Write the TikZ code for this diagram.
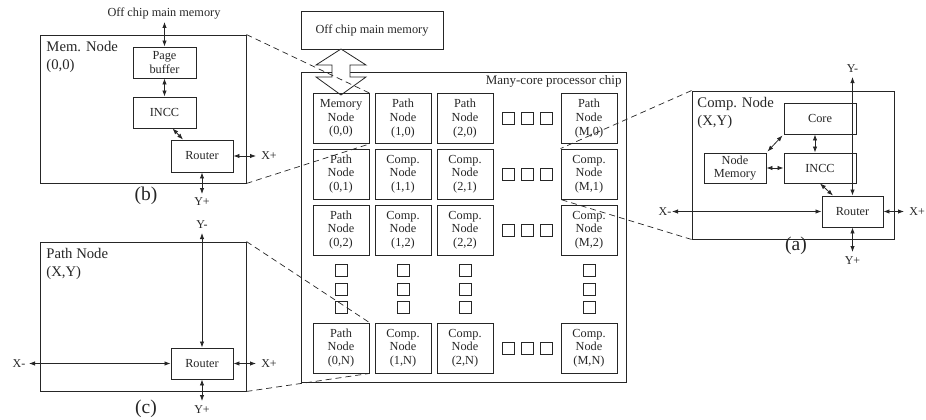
\documentclass[tikz,border=0pt]{standalone}
\usepackage{fontspec}
\setmainfont{Liberation Serif}
\usetikzlibrary{arrows.meta}
\newcommand\txtsm{\fontsize{12.3}{13.6}\selectfont}
\newcommand\txtio{\fontsize{12}{13}\selectfont}
\newcommand\txtchip{\fontsize{13}{14}\selectfont}
\newcommand\txttitle{\fontsize{14.7}{18}\selectfont}
\newcommand\txtcap{\fontsize{19.5}{21}\selectfont}
\begin{document}
\begin{tikzpicture}[x=1pt,y=-1pt,color=black!85,line width=0.9pt,
  box/.style={draw,rectangle,inner sep=0pt,align=center,font=\txtsm},
  cell/.style={box,minimum width=56pt,minimum height=50pt},
  frame/.style={draw,rectangle,inner sep=0pt},
  sq/.style={draw,rectangle,inner sep=0pt,minimum size=12pt,line width=0.8pt},
  boxtitle/.style={anchor=north west,align=left,inner sep=0pt,font=\txttitle},
  io/.style={inner sep=0pt,font=\txtio},
  subcap/.style={inner sep=0pt,font=\txtcap},
  biarrow/.style={{Latex[length=6pt,width=4.4pt]}-{Latex[length=6pt,width=4.4pt]},line width=0.8pt},
  zoomline/.style={dashed,dash pattern=on 6pt off 4pt,line width=0.7pt}]
\useasboundingbox (0,0) rectangle (926,420);

% ---------------- (b) memory node ----------------
\node[frame,minimum width=206pt,minimum height=148pt] (memb) at (143,109) {};
\node[boxtitle] (membt) at (46,41) {Mem. Node\\(0,0)};
\node[io,font=\txtsm] (offb) at (164,13) {Off chip main memory};
\node[box,minimum width=63pt,minimum height=31pt] (pb) at (164.5,62.5) {Page\\buffer};
\node[box,minimum width=63pt,minimum height=31pt] (inccb) at (164.5,112.5) {INCC};
\node[box,minimum width=62pt,minimum height=32pt] (rtb) at (202,156) {Router};
\node[io] (xpb) at (269,156) {X+};
\node[io] (ypb) at (202,202) {Y+};
\node[subcap] (capb) at (146,196) {(b)};
\coordinate (offbend) at (pb.north |- 0,22);
\draw[biarrow] (offbend) -- (pb.north);
\draw[biarrow] (pb.south) -- (inccb.north);
\draw[biarrow] ([xshift=8pt]inccb.south) -- ([xshift=-19pt]rtb.north);
\draw[biarrow] (rtb.east) -- (xpb.west -| 256,0);
\draw[biarrow] (rtb.south) -- (ypb.north |- 0,194);

% ---------------- (c) path node ----------------
\node[frame,minimum width=206pt,minimum height=149pt] (pathc) at (143,316.5) {};
\node[boxtitle] (pathct) at (46,248) {Path Node\\(X,Y)};
\node[box,minimum width=62pt,minimum height=31pt] (rtc) at (202,363.5) {Router};
\node[io] (ymc) at (202,225) {Y-};
\node[io] (xmc) at (19,363.5) {X-};
\node[io] (xpc) at (269,363.5) {X+};
\node[io] (ypc) at (202,410) {Y+};
\node[subcap] (capc) at (146,409) {(c)};
\draw[biarrow] (ymc.south |- 0,233) -- (rtc.north);
\draw[biarrow] (rtc.west -| 29,0) -- (rtc.west);
\draw[biarrow] (rtc.east) -- (256,363.5);
\draw[biarrow] (rtc.south) -- (202,401);

% ---------------- many-core chip ----------------
\node[box,minimum width=142pt,minimum height=38pt] (offm) at (372,30) {Off chip main memory};
\node[frame,minimum width=325pt,minimum height=310pt] (chip) at (463.5,227) {};
\node[anchor=east,inner sep=0pt,font=\txtchip] (chipt) at (622,81) {Many-core processor chip};

% memory port between the off-chip memory and the chip
\draw[fill=white,line width=0.8pt] (341,49) -- (366,65) -- (350,65) -- (350,77) -- (366,77)
  -- (341,95) -- (316,77) -- (332,77) -- (332,65) -- (316,65) -- cycle;

% node grid
\node[cell] (c00) at (341,118.5) {Memory\\Node\\(0,0)};
\node[cell] (c10) at (403,118.5) {Path\\Node\\(1,0)};
\node[cell] (c20) at (465,118.5) {Path\\Node\\(2,0)};
\node[cell] (cM0) at (589,118.5) {Path\\Node\\(M,0)};
\node[cell] (c01) at (341,174) {Path\\Node\\(0,1)};
\node[cell] (c11) at (403,174) {Comp.\\Node\\(1,1)};
\node[cell] (c21) at (465,174) {Comp.\\Node\\(2,1)};
\node[cell] (cM1) at (589,174) {Comp.\\Node\\(M,1)};
\node[cell] (c02) at (341,230) {Path\\Node\\(0,2)};
\node[cell] (c12) at (403,230) {Comp.\\Node\\(1,2)};
\node[cell] (c22) at (465,230) {Comp.\\Node\\(2,2)};
\node[cell] (cM2) at (589,230) {Comp.\\Node\\(M,2)};
\node[cell] (c0N) at (341,348) {Path\\Node\\(0,N)};
\node[cell] (c1N) at (403,348) {Comp.\\Node\\(1,N)};
\node[cell] (c2N) at (465,348) {Comp.\\Node\\(2,N)};
\node[cell] (cMN) at (589,348) {Comp.\\Node\\(M,N)};

% ellipsis squares
\foreach \r/\y in {0/118.5,1/174,2/230,N/348}
  \foreach \k/\x in {1/508,2/527,3/546}
    \node[sq] (h\r\k) at (\x,\y) {};
\foreach \c/\x in {0/341,1/403,2/465,M/589}
  \foreach \k/\y in {1/270,2/289,3/307}
    \node[sq] (v\c\k) at (\x,\y) {};

% ---------------- (a) computing node ----------------
\node[frame,minimum width=202pt,minimum height=148pt] (compa) at (793,165) {};
\node[boxtitle] (compat) at (697,97) {Comp. Node\\(X,Y)};
\node[box,minimum width=72pt,minimum height=31pt] (core) at (820,118.5) {Core};
\node[box,minimum width=72pt,minimum height=30pt] (incca) at (820,168) {INCC};
\node[box,minimum width=62pt,minimum height=30pt] (nmem) at (735,168) {Node\\Memory};
\node[box,minimum width=61pt,minimum height=31pt] (rta) at (852.5,211.5) {Router};
\node[io] (yma) at (852.5,69) {Y-};
\node[io] (xma) at (665,211.5) {X-};
\node[io,anchor=west] (xpa) at (909,211.5) {X+};
\node[io] (ypa) at (852.5,261) {Y+};
\node[subcap] (capa) at (796,246) {(a)};
\draw[biarrow] ([xshift=-5pt]core.south) -- ([xshift=-5pt]incca.north);
\draw[biarrow] (nmem.east) -- (incca.west);
\draw[biarrow] ([shift={(-1,1)}]core.south west) -- ([shift={(1,-1)}]nmem.north east);
\draw[biarrow] (incca.south) -- ([xshift=-19.5pt]rta.north);
\draw[biarrow] (yma.south |- 0,77) -- (rta.north);
\draw[biarrow] (rta.west -| 672,0) -- (rta.west);
\draw[biarrow] (rta.east) -- (xpa.west -| 904,0);
\draw[biarrow] (rta.south) -- (852.5,252);

% ---------------- zoom-in guides ----------------
\draw[zoomline] (memb.north east) -- (c00.north east);
\draw[zoomline] (memb.south east) -- (c00.south east);
\draw[zoomline] (pathc.north east) -- (c0N.north east);
\draw[zoomline] (pathc.south east) -- (c0N.south east);
\draw[zoomline] (compa.north west) -- (cM1.north west);
\draw[zoomline] (compa.south west) -- (cM1.south west);
\end{tikzpicture}
\end{document}
